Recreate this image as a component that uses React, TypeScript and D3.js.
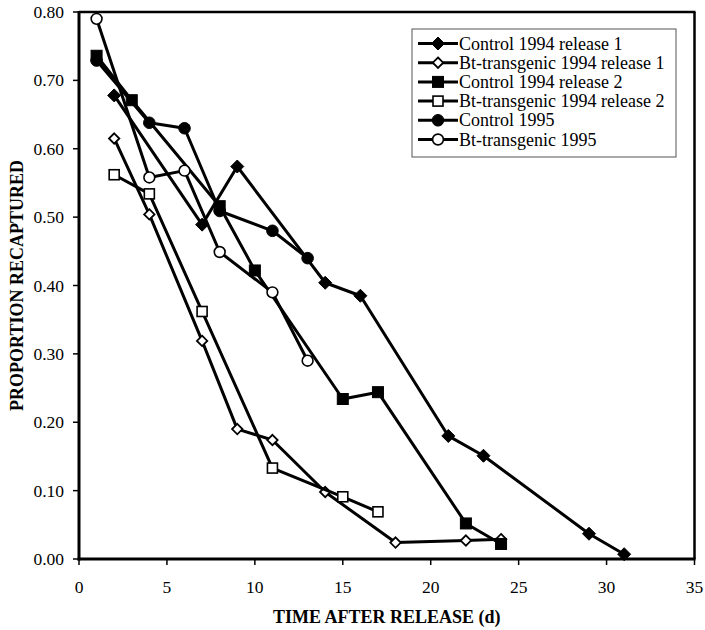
import React from "react";
import * as d3 from "d3";

const seriesNames = [
  "Control 1994 release 1",
  "Bt-transgenic 1994 release 1",
  "Control 1994 release 2",
  "Bt-transgenic 1994 release 2",
  "Control 1995",
  "Bt-transgenic 1995",
];
const seriesShapes = ["diamond", "diamond", "square", "square", "circle", "circle"];
const seriesFilled = [true, false, true, false, true, false];

const c94r1X = [2, 7, 9, 14, 16, 21, 23, 29, 31];
const c94r1Y = [0.678, 0.489, 0.574, 0.404, 0.385, 0.18, 0.151, 0.037, 0.007];
const bt94r1X = [2, 4, 7, 9, 11, 14, 18, 22, 24];
const bt94r1Y = [0.615, 0.504, 0.319, 0.19, 0.174, 0.098, 0.024, 0.027, 0.029];
const c94r2X = [1, 3, 8, 10, 15, 17, 22, 24];
const c94r2Y = [0.736, 0.671, 0.516, 0.422, 0.234, 0.244, 0.052, 0.022];
const bt94r2X = [2, 4, 7, 11, 15, 17];
const bt94r2Y = [0.562, 0.534, 0.362, 0.133, 0.091, 0.069];
const c95X = [1, 4, 6, 8, 11, 13];
const c95Y = [0.729, 0.638, 0.63, 0.509, 0.48, 0.44];
const bt95X = [1, 4, 6, 8, 11, 13];
const bt95Y = [0.79, 0.558, 0.568, 0.449, 0.39, 0.29];

const seriesX = [c94r1X, bt94r1X, c94r2X, bt94r2X, c95X, bt95X];
const seriesY = [c94r1Y, bt94r1Y, c94r2Y, bt94r2Y, c95Y, bt95Y];

const xTicks = [0, 5, 10, 15, 20, 25, 30, 35];
const yTicks = [0, 0.1, 0.2, 0.3, 0.4, 0.5, 0.6, 0.7, 0.8];
const xTitle = "TIME AFTER RELEASE (d)";
const yTitle = "PROPORTION RECAPTURED";

const FONT = '"Liberation Serif", "DejaVu Serif", serif';
const tStyle = { fontFamily: FONT };

function Marker({ shape, filled, cx, cy }: { shape: string; filled: boolean; cx: number; cy: number }) {
  const fill = filled ? "#000" : "#fff";
  if (shape === "diamond") {
    const h = filled ? 6.5 : 5.2;
    return (
      <path
        d={`M${cx},${cy - h}L${cx + h},${cy}L${cx},${cy + h}L${cx - h},${cy}Z`}
        fill={fill}
        stroke="#000"
        strokeWidth={filled ? 1 : 1.8}
      />
    );
  }
  if (shape === "square") {
    const s = filled ? 11 : 10;
    return (
      <rect x={cx - s / 2} y={cy - s / 2} width={s} height={s} fill={fill} stroke="#000" strokeWidth={filled ? 1 : 1.6} />
    );
  }
  return <circle cx={cx} cy={cy} r={filled ? 5.8 : 5.4} fill={fill} stroke="#000" strokeWidth={filled ? 1 : 1.6} />;
}

export default function App() {
  const x = d3.scaleLinear().domain([0, 35]).range([79, 694.5]);
  const y = d3.scaleLinear().domain([0, 0.8]).range([559, 12]);
  const line = d3
    .line<[number, number]>()
    .x((d) => x(d[0]))
    .y((d) => y(d[1]));
  const fmt = d3.format(".2f");

  const legendTop = 43.5;
  const legendStep = 19.2;

  return (
    <svg width={705} height={630} style={{ position: "absolute", left: 0, top: 0, background: "#fff" }}>
      <rect x={0} y={0} width={705} height={630} fill="#fff" />
      {/* plot frame */}
      <line x1={x(0)} x2={x(35) + 1} y1={y(0.8)} y2={y(0.8)} stroke="#000" strokeWidth={2.5} />
      <line x1={x(35)} x2={x(35)} y1={y(0.8)} y2={y(0)} stroke="#000" strokeWidth={2.5} />
      <line x1={x(0)} x2={x(0)} y1={y(0.8) - 1} y2={y(0) + 1.5} stroke="#000" strokeWidth={3} />
      <line x1={x(0) - 1.5} x2={x(35) + 1} y1={y(0)} y2={y(0)} stroke="#000" strokeWidth={3} />

      {/* y ticks */}
      {yTicks.map((t) => (
        <g key={"y" + t}>
          <line x1={x(0) - 6} x2={x(0)} y1={y(t)} y2={y(t)} stroke="#000" strokeWidth={1.5} />
          <text x={64} y={y(t) + 6} textAnchor="end" fontSize={17.5} style={tStyle}>
            {fmt(t)}
          </text>
        </g>
      ))}
      {/* x ticks */}
      {xTicks.map((t) => (
        <g key={"x" + t}>
          <line x1={x(t)} x2={x(t)} y1={y(0)} y2={y(0) + 6} stroke="#000" strokeWidth={1.5} />
          <text x={x(t)} y={593} textAnchor="middle" fontSize={17.5} style={tStyle}>
            {t}
          </text>
        </g>
      ))}

      <text x={(x(0) + x(35)) / 2} y={623} textAnchor="middle" fontSize={18} fontWeight="bold" style={tStyle}>
        {xTitle}
      </text>
      <text
        transform={`translate(23, ${(y(0) + y(0.8)) / 2}) rotate(-90)`}
        textAnchor="middle"
        fontSize={18}
        fontWeight="bold"
        style={tStyle}
      >
        {yTitle}
      </text>

      {/* series */}
      {seriesNames.map((name, i) => {
        const pts = seriesX[i].map((xv, j) => [xv, seriesY[i][j]] as [number, number]);
        return (
          <g key={name}>
            <path d={line(pts) || ""} fill="none" stroke="#000" strokeWidth={3} strokeLinejoin="round" />
            {pts.map((p, j) => (
              <Marker key={j} shape={seriesShapes[i]} filled={seriesFilled[i]} cx={x(p[0])} cy={y(p[1])} />
            ))}
          </g>
        );
      })}

      {/* legend */}
      <rect x={412} y={29} width={264} height={128} fill="#fff" stroke="#555" strokeWidth={1} />
      {seriesNames.map((name, i) => {
        const cy = legendTop + i * legendStep;
        return (
          <g key={"lg" + name}>
            <line x1={418} x2={458} y1={cy} y2={cy} stroke="#000" strokeWidth={3} />
            <Marker shape={seriesShapes[i]} filled={seriesFilled[i]} cx={438} cy={cy} />
            <text x={459} y={cy + 6} fontSize={18} style={tStyle}>
              {name}
            </text>
          </g>
        );
      })}
    </svg>
  );
}
